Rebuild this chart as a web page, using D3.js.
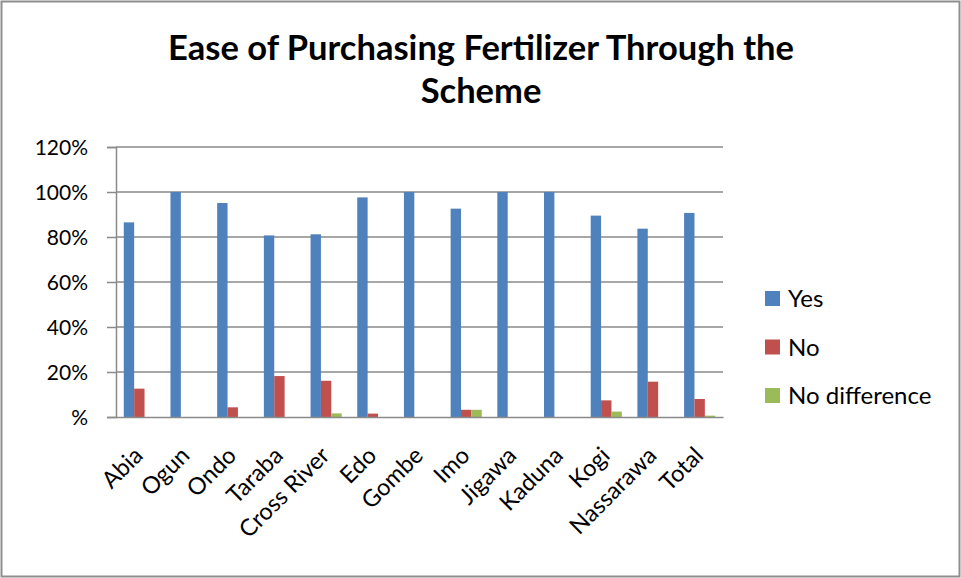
<!DOCTYPE html>
<html>
<head>
<meta charset="utf-8">
<script src="https://cdn.jsdelivr.net/npm/d3@7"></script>
<style>
  html, body { margin: 0; padding: 0; background: #fff; }
  svg { display: block; }
  text { font-family: Lato, "Open Sans", sans-serif; fill: #000; }
</style>
</head>
<body>
<svg id="chart" width="961" height="578"></svg>
<script>
const categories = ["Abia","Ogun","Ondo","Taraba","Cross River","Edo","Gombe","Imo","Jigawa","Kaduna","Kogi","Nassarawa","Total"];
const seriesNames = ["Yes","No","No difference"];
const yesValues = [86.5,100,95.1,80.7,81.2,97.6,100,92.6,100,100,89.5,83.7,90.7];
const noValues = [12.6,0,4.3,18.2,16.1,1.5,0,3.2,0,0,7.4,15.7,8.0];
const noDiffValues = [0,0,0,0,1.6,0,0,3.2,0,0,2.4,0,0.6];
const yTicks = [0,20,40,60,80,100,120];
const yTickLabels = ["%","20%","40%","60%","80%","100%","120%"];
const titleLines = ["Ease of Purchasing Fertilizer Through the","Scheme"];
const colors = ["#4F81BD","#C0504D","#9BBB59"];

const svg = d3.select("#chart");
const W = 961, H = 578;

// outer border
svg.append("rect").attr("x",1.5).attr("y",1.5).attr("width",W-3).attr("height",H-3)
  .attr("fill","#fff").attr("stroke","#8e8e8e").attr("stroke-width",2);

const plot = {left:116, right:723, top:147, bottom:417};

const x0 = d3.scaleBand().domain(categories).range([plot.left, plot.right]).paddingInner(0).paddingOuter(0);
const x1 = d3.scaleBand().domain(seriesNames).range([0, x0.bandwidth()]).paddingInner(0).paddingOuter(0.75);
const y = d3.scaleLinear().domain([0,120]).range([plot.bottom, plot.top]);

// gridlines
svg.append("g").selectAll("line").data(yTicks.filter(t => t>0)).join("line")
  .attr("x1", plot.left).attr("x2", plot.right)
  .attr("y1", d => y(d)).attr("y2", d => y(d))
  .attr("stroke","#8a8a8a").attr("stroke-width",1.5);

// y axis
const yAxis = d3.axisLeft(y).tickValues(yTicks).tickSize(9).tickPadding(19)
  .tickFormat((d,i) => yTickLabels[i]);
const gy = svg.append("g").attr("transform",`translate(${plot.left},0)`).call(yAxis);
gy.select(".domain").attr("stroke","#8a8a8a").attr("stroke-width",1.5);
gy.selectAll(".tick line").attr("stroke","#8a8a8a").attr("stroke-width",1.5);
gy.selectAll(".tick text").attr("font-size",21).attr("font-family","Lato, sans-serif").attr("fill","#000").attr("dy","0.35em");

// bars
const seriesData = [yesValues, noValues, noDiffValues];
seriesNames.forEach((s, si) => {
  svg.append("g").selectAll("rect").data(categories).join("rect")
    .attr("x", (c) => x0(c) + x1(s))
    .attr("width", x1.bandwidth())
    .attr("y", (c,i) => y(seriesData[si][i]))
    .attr("height", (c,i) => plot.bottom - y(seriesData[si][i]))
    .attr("fill", colors[si]);
});

// x axis line
const xAxis = d3.axisBottom(x0).tickSize(0).tickPadding(0);
const gx = svg.append("g").attr("transform",`translate(0,${plot.bottom})`).call(xAxis);
gx.select(".domain").attr("stroke","#8a8a8a").attr("stroke-width",1.5);
gx.selectAll(".tick text")
  .attr("font-size",23.5).attr("font-family","Lato, sans-serif").attr("fill","#000")
  .attr("text-anchor","end")
  .attr("dy",0)
  .attr("transform","translate(5,40) rotate(-45)");

// title
svg.append("g").selectAll("text").data(titleLines).join("text")
  .attr("x", 481).attr("y",(d,i) => 60 + i*43)
  .attr("text-anchor","middle")
  .attr("font-size",34.5).attr("font-weight","bold")
  .attr("font-family","Lato, sans-serif")
  .text(d => d);

// legend
const legend = svg.append("g").selectAll("g").data(seriesNames).join("g")
  .attr("transform",(d,i) => `translate(765,${291 + i*48.5})`);
legend.append("rect").attr("width",15).attr("height",15).attr("fill",(d,i)=>colors[i]);
legend.append("text").attr("x",23).attr("y",16).attr("font-size",24)
  .attr("font-family","Lato, sans-serif").text(d => d);
</script>
</body>
</html>
